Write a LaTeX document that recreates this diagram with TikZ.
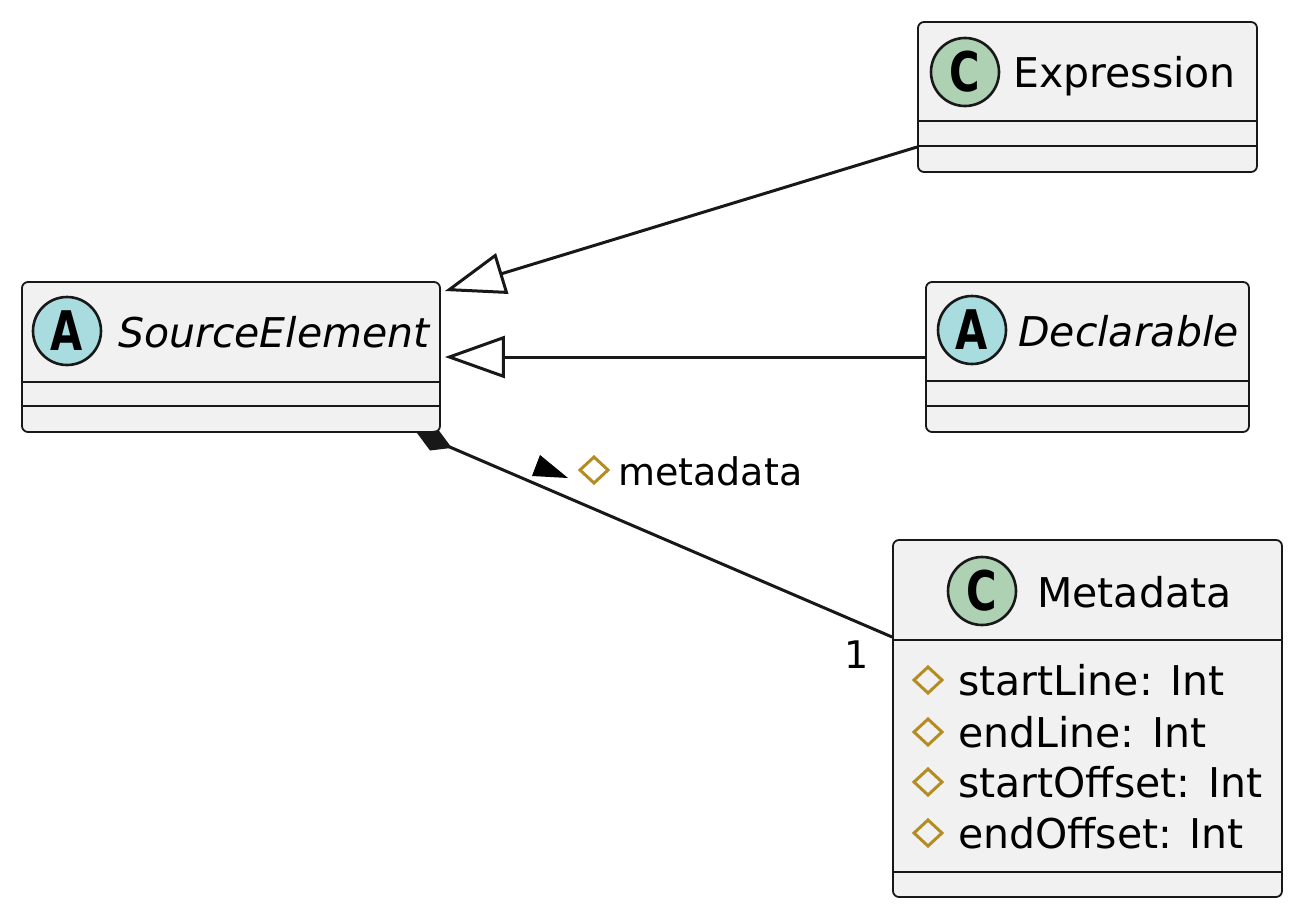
\documentclass[tikz,border=0pt]{standalone}
\usepackage{fontspec}
\setmainfont{DejaVu Sans}
\usetikzlibrary{arrows.meta}
\definecolor{boxfill}{HTML}{F1F1F1}
\definecolor{boxline}{HTML}{181818}
\definecolor{spotC}{HTML}{ADD1B2}
\definecolor{spotA}{HTML}{A9DCDF}
\definecolor{protcol}{HTML}{B38D22}
\newcommand\spotletter[1]{\scalebox{0.8}[1.05]{\fontsize{52}{52}\selectfont\bfseries #1}}
\begin{document}
\begin{tikzpicture}[x=1pt,y=-1pt,
  classbox/.style={draw=boxline, fill=boxfill, line width=1.8pt, rounded corners=6pt, inner sep=0pt},
  sepline/.style={draw=boxline, line width=1.6pt},
  spot/.style={circle, draw=boxline, line width=2.6pt, minimum size=68pt, inner sep=0pt},
  cname/.style={anchor=base west, inner sep=0pt, font=\fontsize{41}{49}\selectfont},
  attr/.style={anchor=base west, inner sep=0pt, font=\fontsize{41}{49}\selectfont},
  lbl/.style={inner sep=0pt, font=\fontsize{38}{46}\selectfont},
  protmark/.pic={\draw[draw=protcol, line width=3pt] (0,-13) -- (14,0) -- (0,13) -- (-14,0) -- cycle;},
  link/.style={draw=boxline, line width=3pt},
  gen/.style={link, -{Triangle[open, length=60pt, width=42pt]}},
  comp/.style={link, {Diamond[length=38pt, width=22pt]}-}
]
\useasboundingbox (0,0) rectangle (1300,915);

% SourceElement
\node[classbox, minimum width=418pt, minimum height=150pt] (src) at (231,357) {};
\draw[sepline] (22,382) -- (440,382) (22,406) -- (440,406);
\node[spot, fill=spotA] (srcspot) at (67,331) {\spotletter{A}};
\node[cname, font=\fontsize{41}{49}\selectfont\itshape] (srcname) at (118,347) {SourceElement};

% Expression
\node[classbox, minimum width=339pt, minimum height=150pt] (exp) at (1087.5,97) {};
\draw[sepline] (918,121) -- (1257,121) (918,146) -- (1257,146);
\node[spot, fill=spotC] (expspot) at (965,72) {\spotletter{C}};
\node[cname] (expname) at (1013,88) {Expression};

% Declarable
\node[classbox, minimum width=323pt, minimum height=150pt] (decl) at (1087.5,357) {};
\draw[sepline] (926,381) -- (1249,381) (926,406) -- (1249,406);
\node[spot, fill=spotA] (declspot) at (972,330) {\spotletter{A}};
\node[cname, font=\fontsize{41}{49}\selectfont\itshape] (declname) at (1018,346) {Declarable};

% Metadata
\node[classbox, minimum width=389pt, minimum height=357pt] (meta) at (1087.5,718.5) {};
\draw[sepline] (893,640) -- (1282,640) (893,872) -- (1282,872);
\node[spot, fill=spotC] (metaspot) at (982,591) {\spotletter{C}};
\node[cname] (metaname) at (1037,607) {Metadata};
\pic at (928,680) {protmark};
\node[attr] (a1) at (958,695) {startLine: Int};
\pic at (928,732) {protmark};
\node[attr] (a2) at (958,747) {endLine: Int};
\pic at (928,782) {protmark};
\node[attr] (a3) at (958,797) {startOffset: Int};
\pic at (928,833) {protmark};
\node[attr] (a4) at (958,848) {endOffset: Int};

% connectors
\coordinate (expend) at ([yshift=-50pt]exp.west);
\coordinate (srctip1) at ([xshift=4pt,yshift=66pt]src.east);
\draw[gen] (expend) -- (srctip1);
\coordinate (srctip2) at ([xshift=4pt]src.east);
\draw[gen] (decl.west) -- (srctip2);
\coordinate (compstart) at ([xshift=-24pt]src.south east);
\coordinate (compend) at ([yshift=81.5pt]meta.west);
\draw[comp] (compstart) -- (compend);

% labels
\node[lbl] (mult) at (857,655) {1};
\fill[black] (540,455) -- (568,478) -- (532,476) -- cycle;
\pic at (594,470) {protmark};
\node[lbl, anchor=base west] (rolelbl) at (618,485) {metadata};
\end{tikzpicture}
\end{document}
